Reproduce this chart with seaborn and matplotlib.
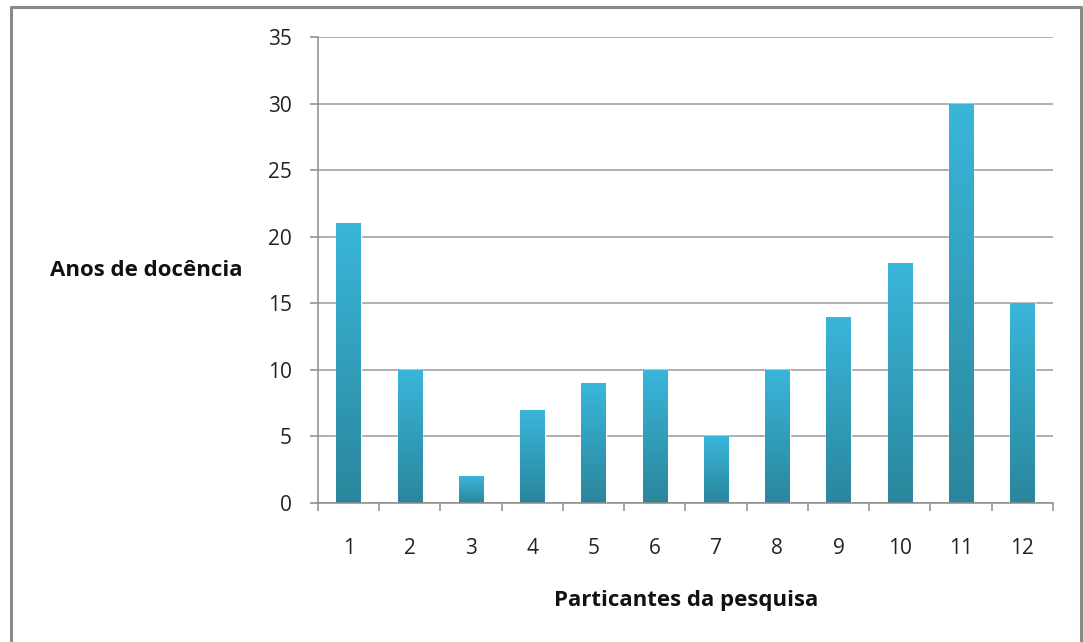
import numpy as np
import pandas as pd
import seaborn as sns
import matplotlib.pyplot as plt
from matplotlib.colors import LinearSegmentedColormap
from matplotlib.lines import Line2D

participantes = ['1', '2', '3', '4', '5', '6', '7', '8', '9', '10', '11', '12']
anos = [21, 10, 2, 7, 9, 10, 5, 10, 14, 18, 30, 15]

df = pd.DataFrame({'Participante': participantes, 'Anos': anos})

sns.set_theme(style='white')
plt.rcParams['font.family'] = ['Open Sans', 'DejaVu Sans']

fig = plt.figure(figsize=(10.83, 6.42), dpi=100)
ax = fig.add_axes([0.2936, 0.2165, 0.6787, 0.7259])

sns.barplot(data=df, x='Participante', y='Anos', ax=ax, width=0.4,
            color='#35a8c8', saturation=1)

# gradient fill (light on top, darker at bottom), clipped to each bar
cmap = LinearSegmentedColormap.from_list('bar', ['#2a869c', '#3ab6da'])
grad = np.linspace(0, 1, 256).reshape(-1, 1)
for p in ax.patches:
    x0, y0 = p.get_x(), p.get_y()
    w, h = p.get_width(), p.get_height()
    im = ax.imshow(grad, cmap=cmap, aspect='auto', origin='lower',
                   extent=[x0, x0 + w, y0, y0 + h], zorder=p.get_zorder() + 0.1)
    im.set_clip_path(p)

ax.set_xlim(-0.5, 11.5)
ax.set_ylim(0, 35)
ax.set_yticks(range(0, 36, 5))
ax.yaxis.grid(True, color='#9a9a9a', linewidth=1.1)
ax.set_axisbelow(True)
for s in ['top', 'right']:
    ax.spines[s].set_visible(False)
for s in ['left', 'bottom']:
    ax.spines[s].set_color('#8c8c8c')
    ax.spines[s].set_linewidth(1.1)

ax.tick_params(axis='y', which='major', left=True, length=6, width=1.1,
               color='#8c8c8c', pad=13, labelsize=15, labelcolor='#222222')
ax.set_xticks(np.arange(-0.5, 12, 1), minor=True)
ax.tick_params(axis='x', which='minor', bottom=True, length=6, width=1.1,
               color='#8c8c8c')
ax.tick_params(axis='x', which='major', bottom=False, length=0, pad=25,
               labelsize=15, labelcolor='#222222')

ax.set_xlabel('')
ax.set_ylabel('')
fig.text(0.0465, 0.579, 'Anos de docência', fontsize=16, fontweight='bold',
         color='#111111', va='center', ha='left')
fig.text(0.634, 0.065, 'Particantes da pesquisa', fontsize=16,
         fontweight='bold', color='#111111', va='center', ha='center')

# outer chart border (bottom edge falls outside the picture)
fig.add_artist(Line2D([0.0105, 0.0105, 0.9985, 0.9985], [0.0, 0.989, 0.989, 0.0],
                      transform=fig.transFigure, color='#8a8a8a', linewidth=2.2))

fig.savefig('out.png', dpi=100)
